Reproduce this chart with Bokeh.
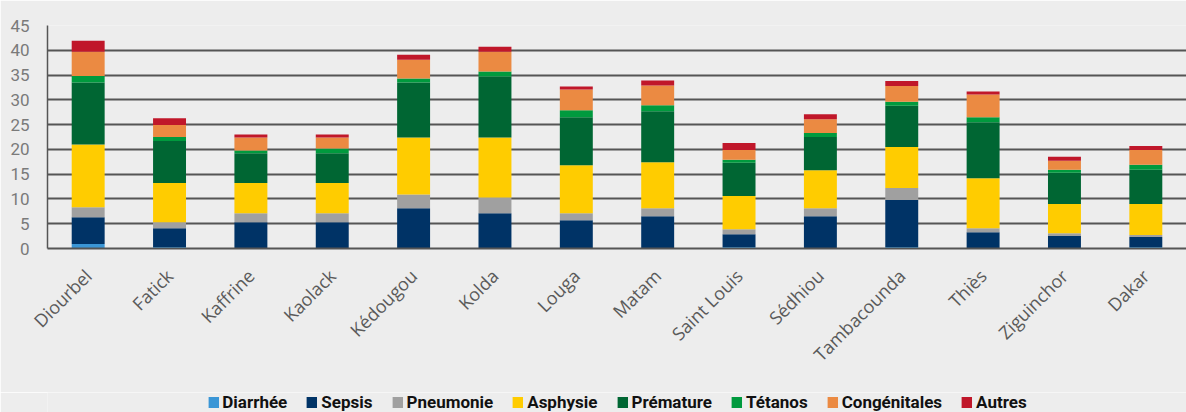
from bokeh.plotting import figure
from bokeh.layouts import column
from bokeh.models import ColumnDataSource, Range1d, FactorRange, Legend, LegendItem, FixedTicker
from bokeh.embed import file_html
from bokeh.resources import INLINE

regions = ["Diourbel", "Fatick", "Kaffrine", "Kaolack", "Kédougou", "Kolda", "Louga",
           "Matam", "Saint Louis", "Sédhiou", "Tambacounda", "Thiès", "Ziguinchor", "Dakar"]

diarrhee     = [0.9, 0.3, 0.0, 0.0, 0.0, 0.0, 0.0, 0.0, 0.3, 0.1, 0.3, 0.1, 0.1, 0.3]
sepsis       = [5.4, 3.8, 5.3, 5.3, 8.1, 7.1, 5.7, 6.5, 2.6, 6.4, 9.5, 3.2, 2.4, 2.0]
pneumonie    = [2.0, 1.2, 1.8, 1.8, 2.8, 3.2, 1.4, 1.6, 1.0, 1.6, 2.4, 0.8, 0.6, 0.4]
asphysie     = [12.7, 7.9, 6.1, 6.1, 11.5, 12.1, 9.7, 9.3, 6.7, 7.7, 8.3, 10.1, 5.9, 6.3]
premature    = [12.5, 8.5, 6.0, 6.0, 11.1, 12.3, 9.7, 10.3, 6.7, 6.7, 8.3, 11.3, 6.3, 6.9]
tetanos      = [1.3, 0.8, 0.6, 1.0, 0.8, 1.0, 1.4, 1.2, 0.6, 0.8, 0.8, 1.0, 0.6, 1.0]
congenitales = [4.9, 2.4, 2.6, 2.2, 3.8, 4.0, 4.2, 4.0, 2.0, 2.8, 3.2, 4.6, 1.8, 3.0]
autres       = [2.2, 1.4, 0.6, 0.6, 1.0, 1.0, 0.6, 1.0, 1.4, 1.0, 1.0, 0.6, 0.8, 0.8]

series_names = ["Diarrhée", "Sepsis", "Pneumonie", "Asphysie", "Prémature", "Tétanos", "Congénitales", "Autres"]
series_values = [diarrhee, sepsis, pneumonie, asphysie, premature, tetanos, congenitales, autres]
colors = ["#3a96d6", "#003366", "#a0a0a0", "#ffcc00", "#006633", "#009a3e", "#eb8a42", "#c0172a"]
y_ticks = [0, 5, 10, 15, 20, 25, 30, 35, 40, 45]

keys = ["s%d" % i for i in range(len(series_names))]
data = {"region": regions}
for k, v in zip(keys, series_values):
    data[k] = v
source = ColumnDataSource(data)

BG = "#ededed"
p = figure(x_range=FactorRange(*regions), y_range=Range1d(0, 45),
           width=1186, height=392, output_backend="svg", toolbar_location=None,
           min_border_left=47, min_border_right=0, min_border_top=25, min_border_bottom=144)
p.background_fill_color = BG
p.border_fill_color = BG
p.outline_line_color = None

renderers = p.vbar_stack(keys, x="region", width=0.405, color=colors, source=source, line_color=None)

p.xgrid.grid_line_color = None
p.ygrid.ticker = FixedTicker(ticks=y_ticks)
p.ygrid.grid_line_color = "#555555"
p.ygrid.grid_line_width = 2

p.yaxis.ticker = FixedTicker(ticks=y_ticks)
p.yaxis.axis_line_color = "#555555"
p.yaxis.axis_line_width = 1.5
p.yaxis.major_tick_line_color = None
p.yaxis.minor_tick_line_color = None
p.yaxis.major_label_text_font = "Roboto"
p.yaxis.major_label_text_font_size = "17px"
p.yaxis.major_label_text_color = "#7a7a7a"
p.yaxis.major_label_standoff = 12

p.xaxis.axis_line_color = "#555555"
p.xaxis.axis_line_width = 2
p.xaxis.major_tick_line_color = None
p.xaxis.minor_tick_line_color = None
p.xaxis.major_label_orientation = 0.785398
p.xaxis.major_label_text_font = "Open Sans"
p.xaxis.major_label_text_font_size = "18px"
p.xaxis.major_label_text_color = "#5a5a5a"
p.xaxis.major_label_standoff = 18

# legend strip below the chart (its renderers only supply the swatch colours)
lg = figure(width=1186, height=20, output_backend="svg", toolbar_location=None,
            x_axis_location=None, y_axis_location=None,
            min_border_left=47, min_border_right=0, min_border_top=0, min_border_bottom=0,
            x_range=Range1d(0, 1), y_range=Range1d(0, 1))
lg.background_fill_color = BG
lg.border_fill_color = BG
lg.outline_line_color = None
lg.grid.visible = False
dummy = [lg.vbar(x=[5], top=[1], width=0.1, color=c, line_color=None) for c in colors]
items = [LegendItem(label=n, renderers=[r], index=0) for n, r in zip(series_names, dummy)]
legend = Legend(items=items, orientation="horizontal", location="center",
                glyph_width=13, glyph_height=14, label_standoff=3, spacing=18,
                padding=0, margin=0, label_height=18,
                border_line_color=None, background_fill_alpha=0,
                label_text_font="Roboto", label_text_font_style="bold",
                label_text_font_size="17px", label_text_color="#111111")
lg.add_layout(legend, "center")

layout = column(p, lg, spacing=0)
html = file_html(layout, INLINE)
html = html.replace("<body>", '<body style="margin:0;background:#ededed;overflow:hidden">', 1)
open("out.html", "w").write(html)
